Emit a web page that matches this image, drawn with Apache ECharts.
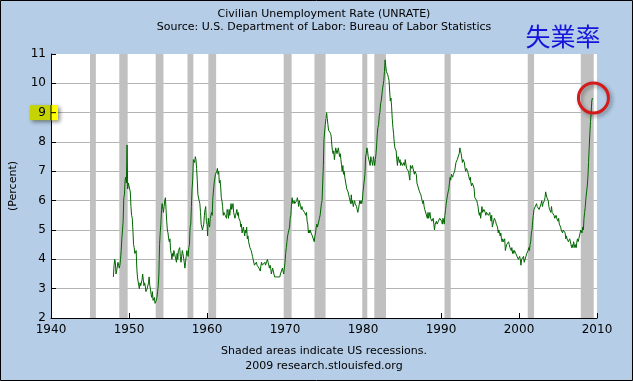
<!DOCTYPE html>
<html><head><meta charset="utf-8">
<script src="https://cdn.jsdelivr.net/npm/echarts@6/dist/echarts.min.js"></script>
<style>html,body{margin:0;padding:0;background:#b5cde6}#c{width:633px;height:381px}</style>
</head><body><div id="c"></div>
<script>
// Monthly civilian unemployment rate (%), Jan 1948 .. Jun 2009
const startYear = 1948;
const unrate = [
3.4,3.8,4.0,3.9,3.5,3.6,3.6,3.9,3.8,3.7,3.8,4.0,
4.3,4.7,5.0,5.3,6.1,6.2,6.7,6.8,6.6,7.9,6.4,6.6,
6.5,6.4,6.3,5.8,5.5,5.4,5.0,4.5,4.4,4.2,4.2,4.3,
3.7,3.4,3.4,3.1,3.0,3.2,3.1,3.1,3.3,3.5,3.5,3.1,
3.2,3.1,2.9,2.9,3.0,3.0,3.2,3.4,3.1,3.0,2.8,2.7,
2.9,2.6,2.6,2.7,2.5,2.5,2.6,2.7,2.9,3.1,3.5,4.5,
4.9,5.2,5.7,5.9,5.9,5.6,5.8,6.0,6.1,5.7,5.3,5.0,
4.9,4.7,4.6,4.7,4.3,4.2,4.0,4.2,4.1,4.3,4.2,4.2,
4.0,3.9,4.2,4.0,4.3,4.3,4.4,4.1,3.9,3.9,4.3,4.2,
4.2,3.9,3.7,3.9,4.1,4.3,4.2,4.1,4.4,4.5,5.1,5.2,
5.8,6.4,6.7,7.4,7.4,7.3,7.5,7.4,7.1,6.7,6.2,6.2,
6.0,5.9,5.6,5.2,5.1,5.0,5.1,5.2,5.5,5.7,5.8,5.3,
5.2,4.8,5.4,5.2,5.1,5.4,5.5,5.6,5.5,6.1,6.1,6.6,
6.6,6.9,6.9,7.0,7.1,6.9,7.0,6.6,6.7,6.5,6.1,6.0,
5.8,5.5,5.6,5.6,5.5,5.5,5.4,5.7,5.6,5.4,5.7,5.5,
5.7,5.9,5.7,5.7,5.9,5.6,5.6,5.4,5.5,5.5,5.7,5.5,
5.6,5.4,5.4,5.3,5.1,5.2,4.9,5.0,5.1,5.1,4.8,5.0,
4.9,5.1,4.7,4.8,4.6,4.6,4.4,4.4,4.3,4.2,4.1,4.0,
4.0,3.8,3.8,3.8,3.9,3.8,3.8,3.8,3.7,3.7,3.6,3.8,
3.9,3.8,3.8,3.8,3.8,3.9,3.8,3.8,3.8,4.0,3.9,3.8,
3.7,3.8,3.7,3.5,3.5,3.7,3.7,3.5,3.4,3.4,3.4,3.4,
3.4,3.4,3.4,3.4,3.4,3.5,3.5,3.5,3.7,3.7,3.5,3.5,
3.9,4.2,4.4,4.6,4.8,4.9,5.0,5.1,5.4,5.5,5.9,6.1,
5.9,5.9,6.0,5.9,5.9,5.9,6.0,6.1,6.0,5.8,6.0,6.0,
5.8,5.7,5.8,5.7,5.7,5.7,5.6,5.6,5.5,5.6,5.3,5.2,
4.9,5.0,4.9,5.0,4.9,4.9,4.8,4.8,4.8,4.6,4.8,4.9,
5.1,5.2,5.1,5.1,5.1,5.4,5.5,5.5,5.9,6.0,6.6,7.2,
8.1,8.1,8.6,8.8,9.0,8.8,8.6,8.4,8.4,8.4,8.3,8.2,
7.9,7.7,7.6,7.7,7.4,7.6,7.8,7.8,7.6,7.7,7.8,7.8,
7.5,7.6,7.4,7.2,7.0,7.2,6.9,7.0,6.8,6.8,6.8,6.4,
6.4,6.3,6.3,6.1,6.0,5.9,6.2,5.9,6.0,5.8,5.9,6.0,
5.9,5.9,5.8,5.8,5.6,5.7,5.7,6.0,5.9,6.0,5.9,6.0,
6.3,6.3,6.3,6.9,7.5,7.6,7.8,7.7,7.5,7.5,7.5,7.2,
7.5,7.4,7.4,7.2,7.5,7.5,7.2,7.4,7.6,7.9,8.3,8.5,
8.6,8.9,9.0,9.3,9.4,9.6,9.8,9.8,10.1,10.4,10.8,10.8,
10.4,10.4,10.3,10.2,10.1,10.1,9.4,9.5,9.2,8.8,8.5,8.3,
8.0,7.8,7.8,7.7,7.4,7.2,7.5,7.5,7.3,7.4,7.2,7.3,
7.3,7.2,7.2,7.3,7.2,7.4,7.4,7.1,7.1,7.1,7.0,7.0,
6.7,7.2,7.2,7.1,7.2,7.2,7.0,6.9,7.0,7.0,6.9,6.6,
6.6,6.6,6.6,6.3,6.3,6.2,6.1,6.0,5.9,6.0,5.8,5.7,
5.7,5.7,5.7,5.4,5.6,5.4,5.4,5.6,5.4,5.4,5.3,5.3,
5.4,5.2,5.0,5.2,5.2,5.3,5.2,5.2,5.3,5.3,5.4,5.4,
5.4,5.3,5.2,5.4,5.4,5.2,5.5,5.7,5.9,5.9,6.2,6.3,
6.4,6.6,6.8,6.7,6.9,6.9,6.8,6.9,6.9,7.0,7.0,7.3,
7.3,7.4,7.4,7.4,7.6,7.8,7.7,7.6,7.6,7.3,7.4,7.4,
7.3,7.1,7.0,7.1,7.1,7.0,6.9,6.8,6.7,6.8,6.6,6.5,
6.6,6.6,6.5,6.4,6.1,6.1,6.1,6.0,5.9,5.8,5.6,5.5,
5.6,5.4,5.4,5.8,5.6,5.6,5.7,5.7,5.6,5.5,5.6,5.6,
5.6,5.5,5.5,5.6,5.6,5.3,5.5,5.1,5.2,5.2,5.4,5.4,
5.3,5.2,5.2,5.1,4.9,5.0,4.9,4.8,4.9,4.7,4.6,4.7,
4.6,4.6,4.7,4.3,4.4,4.5,4.5,4.5,4.6,4.5,4.4,4.4,
4.3,4.4,4.2,4.3,4.2,4.3,4.3,4.2,4.2,4.1,4.1,4.0,
4.0,4.1,4.0,3.8,4.0,4.0,4.0,4.1,3.9,3.9,3.9,3.9,
4.2,4.2,4.3,4.4,4.3,4.5,4.6,4.9,5.0,5.3,5.5,5.7,
5.7,5.7,5.7,5.9,5.8,5.8,5.8,5.7,5.7,5.7,5.9,6.0,
5.8,5.9,5.9,6.0,6.1,6.3,6.2,6.1,6.1,6.0,5.8,5.7,
5.7,5.6,5.8,5.6,5.6,5.6,5.5,5.4,5.4,5.5,5.4,5.4,
5.3,5.4,5.2,5.2,5.1,5.0,5.0,4.9,5.0,5.0,5.0,4.9,
4.7,4.8,4.7,4.7,4.6,4.6,4.7,4.7,4.5,4.4,4.5,4.4,
4.6,4.5,4.4,4.5,4.4,4.6,4.7,4.6,4.7,4.7,4.7,5.0,
5.0,4.9,5.1,5.0,5.4,5.6,5.8,6.1,6.1,6.5,6.8,7.3,
7.8,8.3,8.7,9.0,9.4,9.5
];
// Recession periods (start, end) in decimal years
const recessions = [
[1945.0,1945.75],[1948.75,1949.83],[1953.42,1954.42],[1957.5,1958.25],
[1960.17,1961.17],[1969.83,1970.85],[1973.78,1975.2],[1979.9,1980.55],
[1981.45,1982.95],[1990.45,1991.25],[2001.12,2001.93],[2007.92,2009.58]
];
const xRange = [1940, 2010];
const yRange = [2, 11];
const highlightTick = 9;
const titleText = 'Civilian Unemployment Rate (UNRATE)';
const subtitleText = 'Source: U.S. Department of Labor: Bureau of Labor Statistics';
const noteText = 'Shaded areas indicate US recessions.';
const creditText = '2009 research.stlouisfed.org';
const cjkLabel = '失業率';
const yName = '(Percent)';

const seriesData = unrate.map((v, i) => [startYear + i / 12, v]);
const FONT = 'DejaVu Sans';

const chart = echarts.init(document.getElementById('c'), null, {renderer: 'canvas'});
chart.setOption({
  animation: false,
  backgroundColor: '#b5cde6',
  grid: {left: 48, right: 36, top: 54, bottom: 63, show: true, backgroundColor: '#ffffff', borderWidth: 0},
  xAxis: {
    type: 'value', min: xRange[0], max: xRange[1], interval: 10,
    axisLine: {show: true, onZero: false, lineStyle: {color: '#000', width: 1}},
    axisTick: {show: true, inside: true, length: 5, lineStyle: {color: '#000'}},
    axisLabel: {color: '#000', fontFamily: FONT, fontSize: 12, margin: 6, formatter: v => String(v)},
    splitLine: {show: false}
  },
  yAxis: {
    type: 'value', min: yRange[0], max: yRange[1], interval: 1,
    name: yName, nameLocation: 'middle', nameGap: 32, nameRotate: 90,
    nameTextStyle: {color: '#000', fontFamily: FONT, fontSize: 11},
    axisLine: {show: true, onZero: false, lineStyle: {color: '#000', width: 1}},
    axisTick: {show: true, inside: true, length: 5, lineStyle: {color: '#000'}},
    axisLabel: {color: '#000', fontFamily: FONT, fontSize: 12, margin: 5,
      formatter: v => (v === highlightTick ? '' : String(v))},
    splitLine: {show: true, showMinLine: false, showMaxLine: false, lineStyle: {color: '#b4b4b4', width: 1}}
  },
  series: [
    {
      type: 'line', data: [], z: 1, silent: true,
      markArea: {silent: true, itemStyle: {color: '#c0c0c0', opacity: 1},
        data: recessions.map(r => [{xAxis: r[0]}, {xAxis: r[1]}])}
    },
    {
      type: 'line', data: seriesData, z: 3, showSymbol: false, symbol: 'none',
      lineStyle: {color: '#006600', width: 1}
    }
  ]
});

const ax = chart.convertToPixel({xAxisIndex: 0}, xRange[0]);
const y9 = chart.convertToPixel({yAxisIndex: 0}, highlightTick);
const lastPt = chart.convertToPixel({gridIndex: 0}, seriesData[seriesData.length - 1]);
const gridCx = (chart.convertToPixel({xAxisIndex: 0}, xRange[0]) + chart.convertToPixel({xAxisIndex: 0}, xRange[1])) / 2;

chart.setOption({
  graphic: [
    {type: 'text', x: gridCx, y: 9, style: {text: titleText, fill: '#000', font: '11px "DejaVu Sans"', textAlign: 'center'}},
    {type: 'text', x: gridCx, y: 22, style: {text: subtitleText, fill: '#000', font: '11px "DejaVu Sans"', textAlign: 'center'}},
    {type: 'text', x: 563, y: 24, style: {text: cjkLabel, fill: '#1414dc', font: '25px "Noto Sans CJK JP"', textAlign: 'center'}},
    {type: 'text', x: gridCx, y: 346, style: {text: noteText, fill: '#000', font: '11px "DejaVu Sans"', textAlign: 'center'}},
    {type: 'text', x: gridCx, y: 361, style: {text: creditText, fill: '#000', font: '11px "DejaVu Sans"', textAlign: 'center'}},
    // highlighted tick marker
    {type: 'rect', z: 100, shape: {x: ax - 21, y: y9 - 7.5, width: 28, height: 15},
      style: {fill: '#c5d400', shadowBlur: 4, shadowOffsetX: 2, shadowOffsetY: 2, shadowColor: 'rgba(0,0,0,0.45)'}},
    {type: 'rect', z: 101, shape: {x: ax, y: y9 - 7.5, width: 7, height: 15}, style: {fill: '#ffff00'}},
    {type: 'line', z: 102, shape: {x1: ax, y1: y9, x2: ax + 5, y2: y9}, style: {stroke: '#000', lineWidth: 1}},
    {type: 'line', z: 102, shape: {x1: ax, y1: y9 - 7.5, x2: ax, y2: y9 + 7.5}, style: {stroke: '#000', lineWidth: 1}},
    {type: 'text', z: 102, x: ax - 5, y: y9 - 6, style: {text: String(highlightTick), fill: '#000', font: '12px "DejaVu Sans"', textAlign: 'right'}},
    // red circle around latest value
    {type: 'circle', z: 100, shape: {cx: lastPt[0] + 1, cy: lastPt[1], r: 15},
      style: {fill: 'none', stroke: '#d41a1a', lineWidth: 3, shadowBlur: 4, shadowOffsetX: 2, shadowOffsetY: 2, shadowColor: 'rgba(0,0,0,0.4)'}},
    // outer border
    {type: 'rect', z: 200, shape: {x: 0.5, y: 0.5, width: 632, height: 380}, style: {fill: 'none', stroke: '#000', lineWidth: 1}}
  ]
});
</script></body></html>
